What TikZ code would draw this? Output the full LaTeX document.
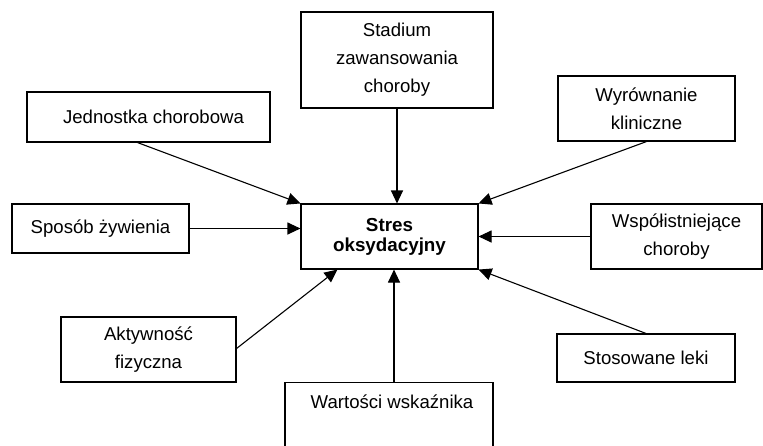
\documentclass[tikz,border=0pt]{standalone}
\usepackage{fontspec}
\setmainfont{Liberation Sans}
\usetikzlibrary{arrows.meta,calc}
\begin{document}
\begin{tikzpicture}[x=1pt,y=-1pt,
  box/.style={draw,line width=1.1pt,align=center,inner sep=0pt,font=\fontsize{18.6}{28}\selectfont},
  conn/.style={line width=1.1pt,-{Triangle[length=13pt,width=12pt]}}]
\useasboundingbox (0,0) rectangle (763,445);
\fill[white] (0,0) rectangle (763,445);
\node[box,minimum width=192,minimum height=96] (stad) at (397,60) {Stadium\\zawansowania\\choroby};
\node[box,minimum width=243,minimum height=50] (jed) at (148.5,117) {\hspace*{10pt}Jednostka chorobowa};
\node[box,minimum width=177,minimum height=49] (spos) at (100.5,228.5) {Sposób żywienia};
\node[box,minimum width=177,minimum height=65] (wyr) at (646.5,108.5) {Wyrównanie\\kliniczne};
\node[box,minimum width=171,minimum height=65] (wsp) at (676.5,236.5) {Współistniejące\\choroby};
\node[box,minimum width=177,minimum height=65,font=\fontsize{18.8}{20}\selectfont\bfseries] (cen) at (389.5,236.5) {Stres\\oksydacyjny};
\node[box,minimum width=175,minimum height=65] (akt) at (148.5,349.5) {Aktywność\\fizyczna};
\node[box,minimum width=178,minimum height=48] (stos) at (646,358) {Stosowane leki};
\node[box,minimum width=208,minimum height=80,anchor=north] (wart) at (389,382) {};
\node[font=\fontsize{18.6}{28}\selectfont,inner sep=0pt] (warttxt) at (392,402) {Wartości wskaźnika};
\draw[conn] (stad.south) -- (stad.south |- cen.north);
\draw[conn] ($(jed.south)+(-11,0)$) -- (cen.north west);
\draw[conn] (spos.east) -- ($(spos.east -| cen.west)+(0,0)$);
\draw[conn] (wyr.south) -- (cen.north east);
\draw[conn] (wsp.west) -- (wsp.west -| cen.east);
\draw[conn] (stos.north) -- (cen.south east);
\draw[conn] ($(akt.east)+(0,-1)$) -- ($(cen.south west)+(37,0)$);
\draw[conn] ($(wart.north)+(5,0)$) coordinate (wn) -- (wn |- cen.south);
\end{tikzpicture}
\end{document}
